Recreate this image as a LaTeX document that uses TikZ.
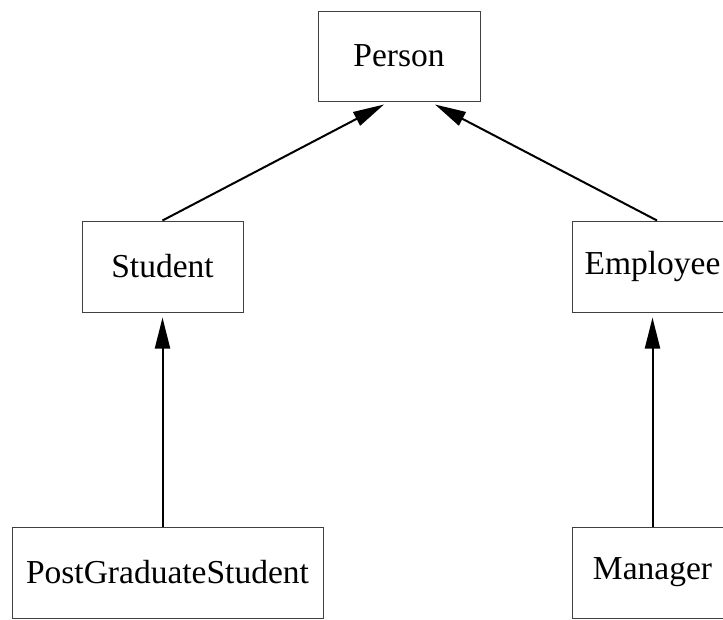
\documentclass[tikz,border=0pt]{standalone}
\usepackage{fontspec}
\setmainfont{Liberation Serif}
\usetikzlibrary{arrows.meta}
\begin{document}
\begin{tikzpicture}[x=1pt,y=-1pt,
  classbox/.style={draw=black!75, line width=1pt, minimum height=91pt, inner sep=0pt,
    font=\fontsize{33.5}{40}\selectfont},
  inherit/.style={line width=2pt, -{Triangle[length=31pt,width=15pt]}}]
\useasboundingbox (0,0) rectangle (723,619);
\clip (0,0) rectangle (723,619);
\node[classbox, minimum width=162pt, minimum height=90pt] (person) at (399,56) {Person};
\node[classbox, minimum width=161pt] (student) at (162.5,266.5) {Student};
\node[classbox, minimum width=161pt] (employee) at (652.5,266.5) {Employee};
\node[classbox, minimum width=311pt] (pgs) at (167.5,572.5) {PostGraduateStudent};
\node[classbox, minimum width=161pt] (manager) at (652.5,572.5) {Manager};
\draw[inherit] (student.north) -- ([xshift=-15pt,yshift=-3pt]person.south);
\draw[inherit] ([xshift=4.5pt]employee.north) -- ([xshift=36pt,yshift=-3pt]person.south);
\draw[inherit] ([xshift=-5pt]pgs.north) -- ([yshift=-5pt]student.south);
\draw[inherit] (manager.north) -- ([yshift=-5pt]employee.south);
\end{tikzpicture}
\end{document}
